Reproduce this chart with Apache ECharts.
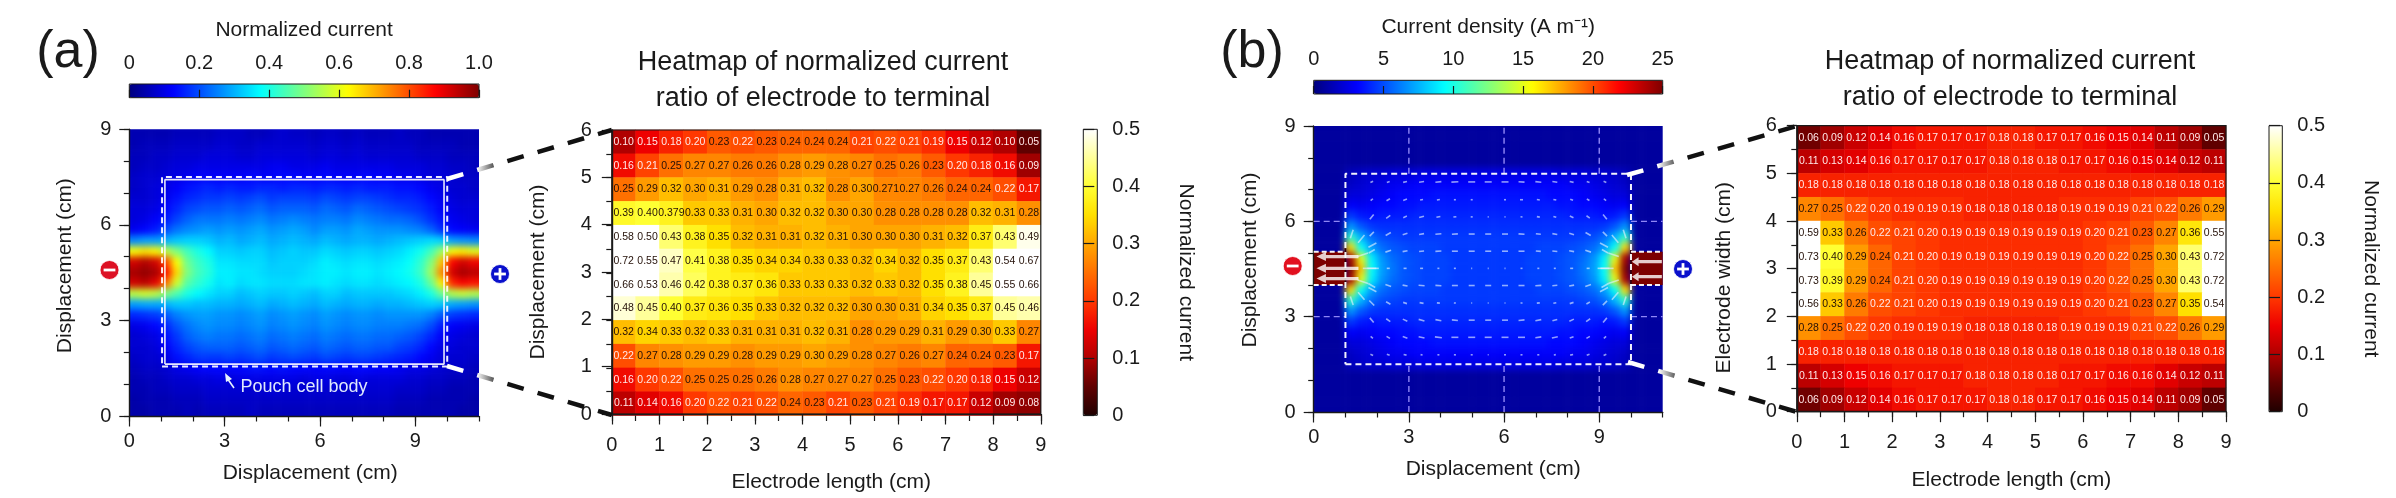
<!DOCTYPE html>
<html><head><meta charset="utf-8">
<style>
html{background:#fff}
body{margin:0}
#c{width:2396px;height:498px;position:relative;isolation:isolate}
canvas[data-zr-dom-id="zr_-1"]{filter:blur(3.5px);clip-path:path("M129.3 129.3H479V416H129.3Z M1313.7 126H1662.7V412H1313.7Z")}
</style>
<script src="https://cdn.jsdelivr.net/npm/echarts@6/dist/echarts.min.js"></script>
</head><body><div id="c"></div>
<script>
// Panel (a) measured map: normalized current in percent, one row per 1/3 cm, top to bottom
const aField=[
[5,5,5,5,6,6,6,6,7,7,7,6,6,7,8,7,7,6,7,7,6,7,6,6,6,7,6,6,5,5,5,5,5],
[5,6,6,6,7,7,7,7,8,8,7,7,8,8,8,8,8,7,8,8,7,8,7,7,7,7,7,6,6,6,6,5,5],
[6,6,7,7,8,8,8,9,9,9,8,8,9,9,9,9,9,8,9,9,8,9,8,8,8,8,8,7,7,7,6,6,6],
[6,7,7,8,9,9,10,10,10,10,10,10,10,11,11,10,10,10,11,10,10,10,10,10,10,9,9,9,8,8,7,7,6],
[7,8,8,9,10,11,12,12,12,12,12,13,12,12,13,13,12,12,13,12,12,12,13,12,12,11,11,10,9,9,8,7,7],
[7,8,9,10,12,14,15,16,15,16,15,15,16,16,15,16,16,15,16,16,15,16,15,15,15,14,14,13,11,10,8,8,7],
[8,8,9,11,14,16,17,18,18,19,18,19,20,18,19,19,19,18,20,19,18,19,19,18,17,16,16,15,13,11,9,8,8],
[9,9,10,13,16,19,20,21,21,22,21,22,23,21,22,22,22,21,23,22,21,23,22,21,20,19,18,17,15,12,10,9,9],
[9,10,12,15,19,22,24,24,24,25,24,25,26,24,25,26,25,24,25,25,24,26,25,24,23,23,22,20,17,14,11,10,9],
[11,13,15,20,24,26,27,28,27,28,27,28,29,27,28,29,28,26,28,28,27,29,28,27,27,27,26,25,22,17,13,12,11],
[26,28,28,30,32,33,33,32,30,31,29,30,31,29,30,31,30,29,31,30,29,30,30,29,30,31,32,33,34,33,28,27,26],
[62,65,63,56,50,44,40,37,33,33,32,33,33,31,32,33,32,32,34,33,32,33,33,32,33,34,36,39,44,53,62,64,60],
[92,95,92,80,62,48,43,40,35,35,34,34,34,32,33,33,33,34,36,35,34,35,35,34,35,36,38,42,50,68,88,92,89],
[96,98,96,86,66,50,44,41,36,36,35,35,34,33,33,33,34,35,36,36,35,36,36,35,36,37,39,43,53,74,92,96,94],
[92,94,90,76,58,46,42,39,35,36,34,35,35,34,34,34,35,35,36,35,34,35,35,34,35,36,37,40,48,64,84,88,86],
[56,58,56,50,45,40,37,35,33,33,31,32,33,32,32,33,32,31,33,33,31,32,32,32,32,33,34,36,40,48,55,57,55],
[28,29,29,30,32,32,31,31,30,30,29,30,31,29,30,31,30,29,31,30,29,30,30,29,30,30,31,32,33,32,29,28,27],
[16,17,18,21,25,27,28,28,27,27,26,27,28,26,27,28,27,26,28,27,26,27,27,26,27,27,27,27,25,21,18,17,16],
[10,11,13,16,21,24,26,27,26,26,25,26,27,25,26,27,26,25,27,26,25,26,26,25,25,25,24,23,20,15,12,11,10],
[8,9,10,14,18,22,24,25,24,24,23,24,25,23,24,25,24,23,25,24,23,24,24,23,23,22,21,19,16,12,10,9,8],
[8,8,9,12,16,19,21,22,22,22,21,22,23,21,22,23,22,21,23,22,21,22,22,21,21,19,18,16,13,10,9,8,8],
[7,8,8,10,14,16,18,18,18,19,18,19,20,18,19,20,19,18,20,19,18,19,19,18,17,16,15,13,11,9,8,8,7],
[6,7,7,8,10,11,12,13,13,13,13,14,14,13,14,13,13,12,13,13,12,13,13,12,12,11,10,10,9,8,7,7,6],
[5,6,6,7,8,8,9,9,10,9,10,10,10,10,10,10,9,10,10,9,9,10,9,9,9,9,8,8,7,7,6,6,5],
[5,5,6,6,7,7,7,8,8,8,8,8,8,9,8,8,8,8,8,8,7,8,8,8,8,7,7,7,6,6,5,5,5],
[4,5,5,5,6,6,6,7,7,7,7,7,7,7,7,7,7,7,7,7,7,7,7,7,7,6,6,6,5,5,5,5,4],
[4,4,5,5,5,6,5,6,6,6,6,7,6,6,6,6,6,6,6,6,6,6,6,6,6,5,5,5,5,5,5,4,4]];

// Panel (a) heatmap of ratios, top row first
const aRatio=[
[.10,.15,.18,.20,.23,.22,.23,.24,.24,.24,.21,.22,.21,.19,.15,.12,.10,.05],
[.16,.21,.25,.27,.27,.26,.26,.28,.29,.28,.27,.25,.26,.23,.20,.18,.16,.09],
[.25,.29,.32,.30,.31,.29,.28,.31,.32,.28,.30,.271,.27,.26,.24,.24,.22,.17],
[.39,.40,.379,.33,.33,.31,.30,.32,.32,.30,.30,.28,.28,.28,.28,.32,.31,.28],
[.58,.50,.43,.38,.35,.32,.31,.31,.32,.31,.30,.30,.30,.31,.32,.37,.43,.49],
[.72,.55,.47,.41,.38,.35,.34,.34,.33,.33,.32,.34,.32,.35,.37,.43,.54,.67],
[.66,.53,.46,.42,.38,.37,.36,.33,.33,.33,.32,.33,.32,.35,.38,.45,.55,.66],
[.48,.45,.40,.37,.36,.35,.33,.32,.32,.32,.30,.30,.31,.34,.35,.37,.45,.46],
[.32,.34,.33,.32,.33,.31,.31,.31,.32,.31,.28,.29,.29,.31,.29,.30,.33,.27],
[.22,.27,.28,.29,.29,.28,.29,.29,.30,.29,.28,.27,.26,.27,.24,.24,.23,.17],
[.16,.20,.22,.25,.25,.25,.26,.28,.27,.27,.27,.25,.23,.22,.20,.18,.15,.12],
[.11,.14,.16,.20,.22,.21,.22,.24,.23,.21,.23,.21,.19,.17,.17,.12,.09,.08]];

// Panel (b) measured map inside the cell body, percent of 25 A/m, one row per 1/3 cm, top to bottom
const bBody=[
[6,7,8,8,9,9,9,10,10,10,10,10,10,10,10,10,10,10,10,10,9,9,9,8,8,7,6],
[7,8,9,10,11,11,12,12,12,12,12,12,12,12,12,12,12,12,12,12,12,11,11,10,9,8,7],
[9,9,10,11,12,13,13,13,14,14,14,14,14,14,14,14,14,14,14,13,13,13,12,11,10,9,9],
[12,11,12,13,13,14,14,15,15,15,15,15,15,15,15,15,15,15,15,15,14,14,13,13,12,11,12],
[18,15,14,15,15,15,16,16,16,16,16,16,16,16,16,16,16,16,16,16,16,15,15,15,14,15,18],
[27,21,18,17,17,17,17,17,17,17,17,17,17,17,17,17,17,17,17,17,17,17,17,17,18,21,27],
[42,30,23,20,19,18,18,18,18,18,18,18,18,18,18,18,18,18,18,18,18,18,19,20,23,30,42],
[66,38,28,23,21,20,19,19,19,18,18,18,18,18,18,18,18,18,19,19,19,20,21,23,28,38,66],
[96,60,36,27,23,21,20,19,19,19,18,18,18,18,18,18,18,19,19,19,20,21,23,27,36,60,96],
[100,68,38,28,24,21,20,19,19,19,18,18,18,18,18,18,18,19,19,19,20,21,24,28,38,68,100],
[96,60,36,27,23,21,20,19,19,19,18,18,18,18,18,18,18,19,19,19,20,21,23,27,36,60,96],
[66,38,28,23,21,20,19,19,19,18,18,18,18,18,18,18,18,18,19,19,19,20,21,23,28,38,66],
[42,30,23,20,19,18,18,18,18,18,18,18,18,18,18,18,18,18,18,18,18,18,19,20,23,30,42],
[27,21,18,17,17,17,17,17,17,17,17,17,17,17,17,17,17,17,17,17,17,17,17,17,18,21,27],
[18,15,14,15,15,15,16,16,16,16,16,16,16,16,16,16,16,16,16,16,16,15,15,15,14,15,18],
[12,11,12,13,13,14,14,15,15,15,15,15,15,15,15,15,15,15,15,15,14,14,13,13,12,11,12],
[9,9,10,11,12,13,13,13,14,14,14,14,14,14,14,14,14,14,14,13,13,13,12,11,10,9,9],
[7,8,9,10,11,11,12,12,12,12,12,12,12,12,12,12,12,12,12,12,12,11,11,10,9,8,7],
[6,7,8,8,9,9,9,10,10,10,10,10,10,10,10,10,10,10,10,10,9,9,9,8,8,7,6]];
const bOutside=3;

// Panel (b) heatmap of ratios, top row first
const bRatio=[
[.06,.09,.12,.14,.16,.17,.17,.17,.18,.18,.17,.17,.16,.15,.14,.11,.09,.05],
[.11,.13,.14,.16,.17,.17,.17,.17,.18,.18,.18,.17,.17,.16,.15,.14,.12,.11],
[.18,.18,.18,.18,.18,.18,.18,.18,.18,.18,.18,.18,.18,.18,.18,.18,.18,.18],
[.27,.25,.22,.20,.19,.19,.19,.18,.18,.18,.18,.19,.19,.19,.21,.22,.26,.29],
[.59,.33,.26,.22,.21,.20,.19,.19,.19,.19,.19,.19,.20,.21,.23,.27,.36,.55],
[.73,.40,.29,.24,.21,.20,.19,.19,.19,.19,.19,.19,.20,.22,.25,.30,.43,.72],
[.73,.39,.29,.24,.21,.20,.19,.19,.19,.19,.19,.19,.20,.22,.25,.30,.43,.72],
[.56,.33,.26,.22,.21,.20,.19,.19,.19,.19,.19,.19,.20,.21,.23,.27,.35,.54],
[.28,.25,.22,.20,.19,.19,.19,.18,.18,.18,.18,.19,.19,.19,.21,.22,.26,.29],
[.18,.18,.18,.18,.18,.18,.18,.18,.18,.18,.18,.18,.18,.18,.18,.18,.18,.18],
[.11,.13,.15,.16,.17,.17,.17,.18,.18,.18,.18,.17,.17,.16,.16,.14,.12,.11],
[.06,.09,.12,.14,.16,.17,.17,.17,.18,.18,.17,.17,.16,.15,.14,.11,.09,.05]];

// Panel (b) current vectors: position (cm), length (px), angle (deg)
const vecX=[1.83,2.35,2.88,3.4,3.93,4.45,4.98,5.5,6.03,6.55,7.08,7.6,8.13,8.65,9.18];
const vecY=[7.24,6.68,6.14,5.6,5.06,4.52,3.98,3.43,2.89,2.35,1.8];
const vecLen=[
[3,3,4,5,6,7,7,7,7,6,6,5,4,3,3],
[3,4,4,3,3,2,2,0,2,3,3,3,3,3,3],
[6,5,4,5,4,3,2,1,1,2,3,3,4,4,6],
[6,6,5,5,6,6,6,6,6,6,5,5,5,6,6],
[7,6,5,5,6,6,6,6,6,6,5,5,5,6,7],
[9,3,3,3,2,2,1,1,1,2,2,2,3,3,9],
[8,6,5,6,6,6,6,6,6,6,6,5,5,6,8],
[7,5,4,4,3,2,1,1,1,2,3,3,4,4,6],
[6,5,5,6,6,6,6,6,6,6,6,5,5,5,6],
[3,4,5,6,7,7,7,7,7,7,6,6,4,4,3],
[3,3,3,2,2,2,2,1,2,2,2,2,3,3,3]];
const vecAngle=[
[25,20,12,8,5,3,0,0,0,-3,-5,-8,-12,-20,-25],
[40,30,20,12,8,0,0,0,0,0,-8,-12,-20,-30,-40],
[50,35,25,15,10,5,0,0,0,-5,-10,-15,-25,-35,-50],
[45,30,18,10,5,3,0,0,0,-3,-5,-10,-18,-30,-45],
[30,18,10,5,3,0,0,0,0,0,-3,-5,-10,-18,-30],
[0,0,0,0,0,0,0,0,0,0,0,0,0,0,0],
[-30,-18,-10,-5,-3,0,0,0,0,0,3,5,10,18,30],
[-45,-30,-18,-10,-5,-3,0,0,0,3,5,10,18,30,45],
[-50,-35,-25,-15,-10,-5,0,0,0,5,10,15,25,35,50],
[-40,-30,-20,-12,-8,0,0,0,0,0,8,12,20,30,40],
[-25,-20,-12,-8,-5,-3,0,0,0,3,5,8,12,20,25]];
const fanVec=[[1.2,5.6,9,72],[1.5,5.45,10,50],[1.85,5.25,9,28],[1.55,4.95,11,18],[1.8,4.52,16,0],[1.55,4.1,11,-18],[1.85,3.85,9,-28],[1.5,3.65,10,-50],[1.2,3.5,9,-72],
[9.8,5.6,9,-72],[9.5,5.45,10,-50],[9.15,5.25,9,-28],[9.45,4.95,11,-18],[9.2,4.52,16,0],[9.45,4.1,11,18],[9.15,3.85,9,28],[9.5,3.65,10,50],[9.8,3.5,9,72]];
const tabArrows=[[.75,4.89,42],[.75,4.52,42],[.75,4.2,42],[10.5,4.73,30],[10.5,4.26,30]];

const jet=['#00007f','#0000ff','#007fff','#00ffff','#7fff7f','#ffff00','#ff7f00','#ff0000','#7f0000'];
const hot=['#200000','#600000','#b00000','#ee0000','#ff3800','#ff7000','#ffa600','#ffe000','#ffff33','#ffff99','#ffffff'];
const FONT='Liberation Sans', INK='#1a1a1a';

const grid=[],xAxis=[],yAxis=[],series=[],visualMap=[],title=[];
const ts=20,ns=21;
const textSt=s=>({fontFamily:FONT,fontSize:s,color:INK});
const line={show:true,onZero:false,lineStyle:{color:INK,width:1.4}};

function addAxes(rect,xOpt,yOpt,gridOpt){
  grid.push(Object.assign({},rect,{containLabel:false,z:5},gridOpt||{}));
  const g=grid.length-1;
  xAxis.push(Object.assign({gridIndex:g,z:5},xOpt));
  yAxis.push(Object.assign({gridIndex:g,z:5},yOpt));
  return xAxis.length-1;
}
const hiddenCat=d=>({type:'category',data:d,show:false,boundaryGap:true});
const hiddenVal=(a,b)=>({type:'value',min:a,max:b,show:false});
const named=(name,gap,shift)=>({name,nameLocation:'middle',nameGap:gap,nameMoveOverlap:false,
  nameTextStyle:Object.assign(textSt(ns),{padding:shift>0?[0,0,0,2*shift]:[0,-2*shift,0,0]})});

function addPlot(r,o){
  const rect={left:r[0],top:r[1],width:r[2],height:r[3]};
  const minorT=l=>({show:true,length:l,lineStyle:{color:INK,width:1.2}});
  addAxes(rect,
    {type:'value',min:0,max:o.xMax,interval:o.xMinor,axisLine:{show:false},axisTick:minorT(5.5),axisLabel:{show:false},splitLine:{show:false}},
    {type:'value',min:0,max:o.yMax,interval:o.yMinor,axisLine:{show:false},axisTick:minorT(5.5),axisLabel:{show:false},splitLine:{show:false}});
  return addAxes(rect,
    Object.assign({type:'value',position:'bottom',min:0,max:o.xMax,axisLine:line,splitLine:{show:false},
      axisTick:Object.assign(minorT(10.5),{customValues:o.xTicks}),
      axisLabel:Object.assign(textSt(ts),{customValues:o.xTicks,margin:o.xMargin})},named(o.xName,o.xGap,o.xShift)),
    Object.assign({type:'value',position:'left',min:0,max:o.yMax,axisLine:line,splitLine:{show:false},
      axisTick:Object.assign(minorT(10),{customValues:o.yTicks}),
      axisLabel:Object.assign(textSt(ts),{customValues:o.yTicks,margin:o.yMargin})},named(o.yName,o.yGap,o.yShift)),
    o.border?{show:true,borderColor:INK,borderWidth:1.2,backgroundColor:'transparent'}:{});
}

function addMap(r,rows,cols,valueAt,vm){
  // the hidden cell grid sticks out one cell on each side so the softened edge stays outside the plot
  const cw=r[2]/cols,ch=r[3]/rows;
  const g={left:r[0]-cw,top:r[1]-ch,width:r[2]+2*cw,height:r[3]+2*ch};
  const ix=addAxes(g,hiddenCat(Array.from({length:cols+2},(_,i)=>i)),hiddenCat(Array.from({length:rows+2},(_,i)=>i)));
  const data=[];
  for(let rr=-1;rr<=rows;rr++)for(let c=-1;c<=cols;c++){
    const R=Math.min(rows-1,Math.max(0,rr)),C=Math.min(cols-1,Math.max(0,c));
    data.push([c+1,rows-rr,valueAt(R,C)]);
  }
  series.push({type:'heatmap',xAxisIndex:ix,yAxisIndex:ix,data,zlevel:-1,progressive:0,silent:true,animation:false,itemStyle:{borderWidth:0}});
  vm.seriesIndex=series.length-1;
  visualMap.push(vm);
}

const fmtRatio=v=>{const s=String(v);return s.length<4?v.toFixed(2):s.replace(/^0?\./,'0.');};
function addRatio(r,matrix){
  const ix=addAxes({left:r[0],top:r[1],width:r[2],height:r[3]},
    hiddenCat(matrix[0].map((_,i)=>i)),hiddenCat(matrix.map((_,i)=>i)));
  const data=[];
  matrix.forEach((row,i)=>row.forEach((v,j)=>data.push({value:[j,matrix.length-1-i,v],
    label:{color:v<0.225?'#ffe8e8':'#241008'}})));
  series.push({type:'heatmap',xAxisIndex:ix,yAxisIndex:ix,data,progressive:0,silent:true,animation:false,z:2,
    label:{show:true,fontFamily:FONT,fontSize:10.5,formatter:p=>fmtRatio(p.value[2])},itemStyle:{borderWidth:0}});
  visualMap.push({type:'continuous',show:false,seriesIndex:series.length-1,dimension:2,min:0,max:.5,inRange:{color:hot},outOfRange:{color:['#ffffff']}});
}

function barH(r,max,interval,fmt,name,colors){
  addAxes({left:r[0],top:r[1],width:r[2],height:r[3]},
    Object.assign({type:'value',position:'top',min:0,max,interval,splitLine:{show:false},axisLine:{show:false},
      axisTick:{show:true,length:8,lineStyle:{color:INK,width:1.2}},
      axisLabel:Object.assign(textSt(ts),{margin:11,formatter:fmt})},named(name,43,0)),
    hiddenVal(0,1),{show:true,borderColor:INK,borderWidth:1,backgroundColor:'transparent'});
  visualMap.push({type:'continuous',orient:'horizontal',left:r[0],top:r[1],itemWidth:r[3],itemHeight:r[2],padding:0,text:null,
    calculable:false,hoverLink:false,min:0,max,inRange:{color:colors},seriesIndex:[],dimension:0,z:4});
}
function barV(r,name){
  addAxes({left:r[0],top:r[1],width:r[2],height:r[3]},hiddenVal(0,1),
    Object.assign({type:'value',position:'right',min:0,max:.5,interval:.1,splitLine:{show:false},axisLine:{show:false},
      axisTick:{show:true,length:11,lineStyle:{color:INK,width:1.2}},
      axisLabel:Object.assign(textSt(ts),{margin:15,formatter:v=>v===0?'0':v.toFixed(1)})},
      {name,nameLocation:'middle',nameGap:78,nameRotate:-90,nameMoveOverlap:false,nameTextStyle:textSt(ns)}),
    {show:true,borderColor:INK,borderWidth:1,backgroundColor:'transparent'});
  visualMap.push({type:'continuous',orient:'vertical',left:r[0],top:r[1],itemWidth:r[2],itemHeight:r[3],padding:0,text:null,
    calculable:false,hoverLink:false,min:0,max:.5,inRange:{color:hot},seriesIndex:[],dimension:0,z:4});
}

function stroke(ix,pts,color,width,type,z){
  series.push({type:'line',xAxisIndex:ix,yAxisIndex:ix,data:pts,showSymbol:false,symbol:'none',silent:true,animation:false,clip:false,z:z||6,
    lineStyle:{color,width,type:type||'solid'}});
}

/* ---------- panel (a) ---------- */
const aMapRect=[129.3,129.3,349.7,286.7], aRatioRect=[611.8,130,429,285.5];
addMap(aMapRect,27,33,(r,c)=>aField[r][c]/100,{type:'continuous',show:false,dimension:2,min:0,max:1,inRange:{color:jet}});
const aLeft=addPlot(aMapRect,{xMax:11,yMax:9,xMinor:1,yMinor:1,xTicks:[0,3,6,9],yTicks:[0,3,6,9],xMargin:15,yMargin:18,
  xName:'Displacement (cm)',xGap:46.5,xShift:6,yName:'Displacement (cm)',yGap:54,yShift:7});
stroke(aLeft,[[1.03,1.55],[10,1.55],[10,7.5],[1.03,7.5],[1.03,1.55]],'rgba(255,255,255,.92)',2,[6,4]);
stroke(aLeft,[[1.12,1.63],[9.9,1.63],[9.9,7.42],[1.12,7.42],[1.12,1.63]],'rgba(255,255,255,.9)',1.6);
addRatio(aRatioRect,aRatio);
addPlot(aRatioRect,{xMax:9,yMax:6,xMinor:.5,yMinor:.5,xTicks:[0,1,2,3,4,5,6,7,8,9],yTicks:[0,1,2,3,4,5,6],xMargin:21,yMargin:20,border:true,
  xName:'Electrode length (cm)',xGap:58,xShift:5,yName:'Displacement (cm)',yGap:63,yShift:0});
barH([129.3,84,349.7,13.7],1,.2,v=>v===0?'0':(v===1?'1.0':String(+v.toFixed(1))),'Normalized current',jet);
barV([1083.3,129.3,14,286],'Normalized current');

/* ---------- panel (b) ---------- */
const bMapRect=[1313.7,126,349,286], bRatioRect=[1796.8,125.7,429.2,286];
addMap(bMapRect,27,33,(r,c)=>((r>=4&&r<=22&&c>=3&&c<=29)?bBody[r-4][c-3]:bOutside)/4,{type:'continuous',show:false,dimension:2,min:0,max:25,inRange:{color:jet}});
const bLeft=addPlot(bMapRect,{xMax:11,yMax:9,xMinor:1,yMinor:1,xTicks:[0,3,6,9],yTicks:[0,3,6,9],xMargin:15,yMargin:18,
  xName:'Displacement (cm)',xGap:46.5,xShift:5,yName:'Displacement (cm)',yGap:53,yShift:9});
[[3,0,3,1.5],[6,0,6,1.5],[9,0,9,1.5],[3,7.5,3,9],[6,7.5,6,9],[9,7.5,9,9],[0,3,1,3],[0,6,1,6],[10,3,11,3],[10,6,11,6]]
  .forEach(s=>stroke(bLeft,[[s[0],s[1]],[s[2],s[3]]],'rgba(160,150,255,.9)',1.4,[6,4],6));
// terminal tabs
series.push({type:'line',xAxisIndex:bLeft,yAxisIndex:bLeft,data:[],silent:true,animation:false,z:6,
  markArea:{silent:true,animation:false,itemStyle:{color:'#7c0000',opacity:1},label:{show:false},
    data:[[{coord:[0,4]},{coord:[1,5.04]}],[{coord:[10,4]},{coord:[11,5.04]}]]}});
stroke(bLeft,[[1,3.9],[1,5.15]],'#30000a',1.6,'solid',7);
stroke(bLeft,[[10,3.9],[10,5.15]],'#30000a',1.6,'solid',7);
[[0,4,1,4],[0,5.04,1,5.04],[10,4,11,4],[10,5.04,11,5.04]].forEach(s=>stroke(bLeft,[[s[0],s[1]],[s[2],s[3]]],'rgba(255,255,255,.95)',2,[5,3],8));
stroke(bLeft,[[1,1.5],[10,1.5],[10,7.5],[1,7.5],[1,1.5]],'rgba(255,255,255,.95)',2,[6,4],8);
// vectors
const vecData=fanVec.map(v=>v.slice());
vecLen.forEach((row,i)=>row.forEach((l,j)=>{if(l>0)vecData.push([vecX[j],vecY[i],l,vecAngle[i][j]]);}));
series.push({type:'scatter',xAxisIndex:bLeft,yAxisIndex:bLeft,data:vecData,symbol:'rect',silent:true,animation:false,z:9,
  symbolSize:v=>[v[2],1.6],symbolRotate:v=>v[3],itemStyle:{color:'rgba(225,240,255,.8)'}});
series.push({type:'scatter',xAxisIndex:bLeft,yAxisIndex:bLeft,data:tabArrows,silent:true,animation:false,z:9,clip:false,
  symbol:'path://M0,5 L9,0 L9,3.2 L40,3.2 L40,6.8 L9,6.8 L9,10 Z',symbolKeepAspect:false,symbolSize:v=>[v[2],9],itemStyle:{color:'#ffffff'}});
addRatio(bRatioRect,bRatio);
addPlot(bRatioRect,{xMax:9,yMax:6,xMinor:.5,yMinor:.5,xTicks:[0,1,2,3,4,5,6,7,8,9],yTicks:[0,1,2,3,4,5,6],xMargin:21,yMargin:20,border:true,
  xName:'Electrode length (cm)',xGap:58,xShift:0,yName:'Electrode width (cm)',yGap:62,yShift:-9});
barH([1313.7,80.3,349,13.7],25,5,v=>String(v),'Current density (A m\u207B\u00B9)',jet);
barV([2269,125.7,13.3,286],'Normalized current');

title.push({text:'Heatmap of normalized current\nratio of electrode to terminal',left:818,top:40,textAlign:'center',textStyle:{fontFamily:FONT,fontSize:27,fontWeight:'normal',color:INK,lineHeight:36}});
title.push({text:'Heatmap of normalized current\nratio of electrode to terminal',left:2005,top:39,textAlign:'center',textStyle:{fontFamily:FONT,fontSize:27,fontWeight:'normal',color:INK,lineHeight:36}});

/* ---------- decoration ---------- */
const leaderStroke={type:'linear',x:0,y:0,x2:1,y2:0,colorStops:[{offset:0,color:'#fff'},{offset:.19,color:'#fff'},{offset:.33,color:'#111'},{offset:1,color:'#111'}]};
const leaders=[[447,179,611.8,130],[447,366,611.8,415],[1627,175,1797,126],[1628,362,1797,412]];
const T=(text,x,y,size,color,extra)=>Object.assign({type:'text',x,y,z:50,silent:true,style:{text,fontFamily:FONT,fontSize:size,fill:color,textAlign:'center',textVerticalAlign:'middle',align:'center',verticalAlign:'middle'}},extra||{});
const sign=(x,y,r,color,plus)=>[
  {type:'circle',shape:{cx:x,cy:y,r},z:50,silent:true,style:{fill:color,stroke:'rgba(255,255,255,.8)',lineWidth:1}},
  {type:'rect',shape:{x:x-r*.62,y:y-1.4,width:r*1.24,height:2.8},z:51,silent:true,style:{fill:'#fff'}},
  ...(plus?[{type:'rect',shape:{x:x-1.4,y:y-r*.62,width:2.8,height:r*1.24},z:51,silent:true,style:{fill:'#fff'}}]:[])];
const graphic=[
  T('(a)',68,53,52,INK), T('(b)',1252,53,52,INK),
  T('Pouch cell body',304,387,18,'rgba(235,245,255,.95)'),
  {type:'line',shape:{x1:234,y1:388,x2:227,y2:378},z:50,silent:true,style:{stroke:'#e8f4ff',lineWidth:1.6}},
  {type:'polygon',shape:{points:[[225,373],[232,379],[226,382]]},z:50,silent:true,style:{fill:'#e8f4ff'}},
  ...sign(109.5,270,9.5,'#dd1124',false), ...sign(500,274,9.5,'#0a10cc',true),
  ...sign(1292.7,266,9.5,'#e2101f',false), ...sign(1683,269,9.5,'#0a10cc',true),
  ...leaders.map(l=>({type:'line',shape:{x1:l[0],y1:l[1],x2:l[2],y2:l[3]},z:60,silent:true,
    style:{stroke:leaderStroke,lineWidth:4.5,lineDash:[17,14.5]}}))
];

const chart=echarts.init(document.getElementById('c'),null,{renderer:'canvas',width:2396,height:498});
chart.setOption({animation:false,backgroundColor:'transparent',tooltip:{show:false},grid,xAxis,yAxis,series,visualMap,title,graphic});
</script></body></html>
